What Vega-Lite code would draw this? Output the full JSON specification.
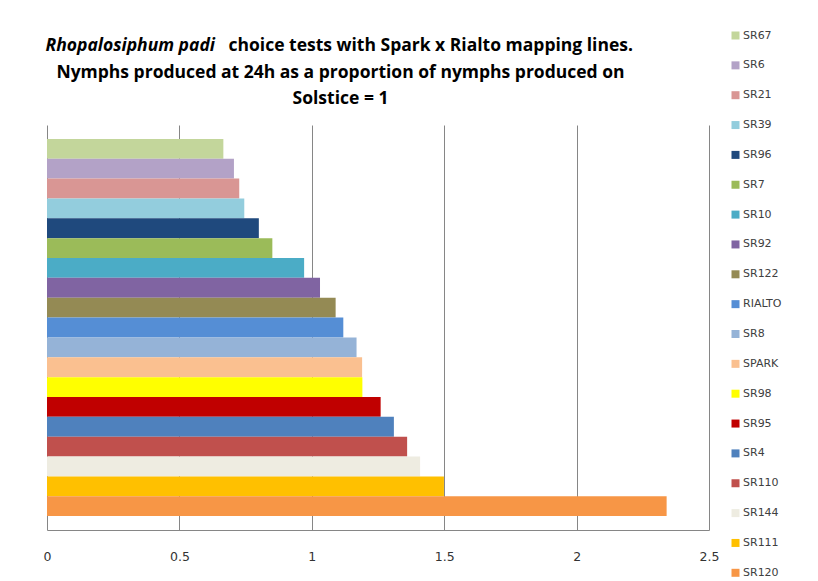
{
  "$schema": "https://vega.github.io/schema/vega-lite/v6.json",
  "width": 662,
  "height": 405,
  "autosize": {"type": "none"},
  "padding": {"left": 47, "top": 125, "right": 109, "bottom": 51},
  "background": "white",
  "data": {
    "values": [
      {"line": "SR67", "value": 0.666},
      {"line": "SR6", "value": 0.706},
      {"line": "SR21", "value": 0.726},
      {"line": "SR39", "value": 0.745},
      {"line": "SR96", "value": 0.800},
      {"line": "SR7", "value": 0.851},
      {"line": "SR10", "value": 0.971},
      {"line": "SR92", "value": 1.031},
      {"line": "SR122", "value": 1.090},
      {"line": "RIALTO", "value": 1.119},
      {"line": "SR8", "value": 1.169},
      {"line": "SPARK", "value": 1.190},
      {"line": "SR98", "value": 1.191},
      {"line": "SR95", "value": 1.260},
      {"line": "SR4", "value": 1.310},
      {"line": "SR110", "value": 1.360},
      {"line": "SR144", "value": 1.409},
      {"line": "SR111", "value": 1.499},
      {"line": "SR120", "value": 2.340}
    ]
  },
  "layer": [
    {
      "mark": {"type": "bar", "stroke": null, "opacity": 1},
      "encoding": {
        "x": {
          "field": "value",
          "type": "quantitative",
          "scale": {"domain": [0, 2.5], "nice": false, "zero": true},
          "axis": {
            "orient": "bottom",
            "values": [0, 0.5, 1, 1.5, 2, 2.5],
            "format": "~g",
            "grid": true,
            "gridColor": "#868686",
            "gridOpacity": 1,
            "gridWidth": 1,
            "ticks": false,
            "domain": true,
            "domainColor": "#868686",
            "labelFont": "DejaVu Sans",
            "labelFontSize": 12.5,
            "labelColor": "#333333",
            "labelPadding": 20,
            "labelFlush": false,
            "labelOverlap": false,
            "title": ["Nymphs produced at 24h as a proportion of nymphs produced on", "Solstice = 1"],
            "titleFont": "Open Sans",
            "titleFontSize": 17.5,
            "titleFontWeight": "bold",
            "titleColor": "#000000",
            "titleAlign": "center",
            "titleBaseline": "alphabetic",
            "titleLineHeight": 26.5,
            "titleX": 293,
            "titleY": -453
          }
        },
        "y": {
          "field": "line",
          "type": "nominal",
          "sort": null,
          "scale": {"paddingInner": 0, "paddingOuter": 0.7},
          "axis": {
            "labels": false,
            "ticks": false,
            "domain": false,
            "grid": false,
            "title": "choice tests with Spark x Rialto mapping lines.",
            "titleAngle": 0,
            "titleFont": "Open Sans",
            "titleFontSize": 17.5,
            "titleFontWeight": "bold",
            "titleColor": "#000000",
            "titleAlign": "left",
            "titleBaseline": "alphabetic",
            "titleX": 181,
            "titleY": -75
          }
        },
        "color": {
          "field": "line",
          "type": "nominal",
          "sort": null,
          "scale": {
            "domain": ["SR67", "SR6", "SR21", "SR39", "SR96", "SR7", "SR10", "SR92", "SR122", "RIALTO", "SR8", "SPARK", "SR98", "SR95", "SR4", "SR110", "SR144", "SR111", "SR120"],
            "range": ["#c3d69b", "#b3a2c7", "#d99694", "#93cddd", "#1f497d", "#9bbb59", "#4bacc6", "#8064a2", "#948a54", "#558ed5", "#95b3d7", "#fac090", "#ffff00", "#c00000", "#4f81bd", "#c0504d", "#eeece1", "#ffc000", "#f79646"]
          },
          "legend": {
            "title": null,
            "orient": "none",
            "legendX": 683,
            "legendY": -95,
            "padding": 0,
            "symbolType": "square",
            "symbolSize": 64,
            "symbolStrokeWidth": 0,
            "symbolOpacity": 1,
            "labelFont": "DejaVu Sans",
            "labelFontSize": 11,
            "labelColor": "#404040",
            "labelOffset": 2,
            "rowPadding": 17.85,
            "columns": 1
          }
        }
      }
    },
    {
      "mark": {"type": "bar", "stroke": null, "opacity": 0},
      "encoding": {
        "x": {
          "field": "value",
          "type": "quantitative",
          "axis": {
            "orient": "top",
            "labels": false,
            "ticks": false,
            "domain": false,
            "grid": false,
            "title": "Rhopalosiphum  padi",
            "titleFont": "Open Sans",
            "titleFontSize": 17.5,
            "titleFontWeight": "bold",
            "titleFontStyle": "italic",
            "titleColor": "#000000",
            "titleAlign": "left",
            "titleBaseline": "alphabetic",
            "titleX": -2,
            "titleY": -75
          }
        },
        "y": {
          "field": "line",
          "type": "nominal",
          "sort": null,
          "axis": {
            "labels": false,
            "ticks": false,
            "domain": false,
            "grid": false,
            "title": "choice tests with Spark x Rialto mapping lines.",
            "titleAngle": 0,
            "titleFont": "Open Sans",
            "titleFontSize": 17.5,
            "titleFontWeight": "bold",
            "titleColor": "#000000",
            "titleAlign": "left",
            "titleBaseline": "alphabetic",
            "titleX": 181,
            "titleY": -75
          }
        }
      }
    }
  ],
  "resolve": {"axis": {"x": "independent"}},
  "config": {
    "view": {"stroke": null}
  }
}
